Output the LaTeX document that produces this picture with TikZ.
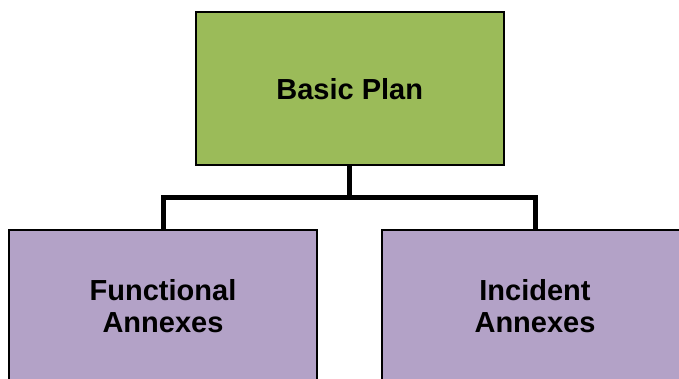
\documentclass[tikz,border=0pt]{standalone}
\usepackage{fontspec}
\setmainfont{Liberation Sans}
\definecolor{plangreen}{HTML}{9BBB59}
\definecolor{annexpurple}{HTML}{B3A2C7}
\tikzset{
    planbox/.style={draw,line width=2pt,inner sep=0pt,outer sep=0pt,anchor=center,
        align=center,font=\fontsize{29}{32}\selectfont\bfseries},
    conn/.style={line width=5pt,line join=miter}
}
\begin{document}
\begin{tikzpicture}[x=1pt,y=-1pt]
        \useasboundingbox (0,0) rectangle (679,379);
        \clip (0,0) rectangle (679,379);
        \node[planbox,fill=plangreen,minimum width=308.5pt,minimum height=152.5pt] (plan) at (349.75,88.75) {Basic Plan};
        \node[planbox,fill=annexpurple,minimum width=308pt,minimum height=152pt] (func) at (163,306) {Functional\\Annexes};
        \node[planbox,fill=annexpurple,minimum width=306pt,minimum height=152pt] (inci) at (535,306) {Incident\\Annexes};
        \coordinate (fork) at (349.75,198);
        \draw[conn] (plan.south) -- (fork);
        \draw[conn] (fork) -| (func.north);
        \draw[conn] (fork) -| (inci.north);
    \end{tikzpicture}
\end{document}
